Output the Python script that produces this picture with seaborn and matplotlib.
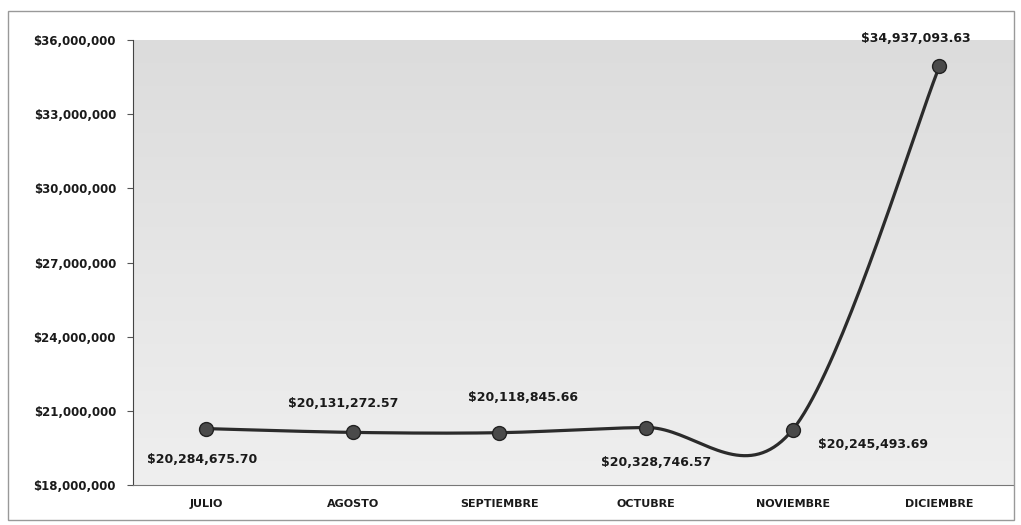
import matplotlib
matplotlib.use("Agg")
import matplotlib.pyplot as plt
from matplotlib.colors import LinearSegmentedColormap
from matplotlib.patches import Rectangle
import numpy as np
import pandas as pd
import seaborn as sns

months = ["JULIO", "AGOSTO", "SEPTIEMBRE", "OCTUBRE", "NOVIEMBRE", "DICIEMBRE"]
values = [20284675.70, 20131272.57, 20118845.66, 20328746.57, 20245493.69, 34937093.63]
labels = ["$20,284,675.70", "$20,131,272.57", "$20,118,845.66",
          "$20,328,746.57", "$20,245,493.69", "$34,937,093.63"]
y_ticks = [18e6, 21e6, 24e6, 27e6, 30e6, 33e6, 36e6]


def smooth(x, y, n=40):
    # Excel-style smoothed line (Catmull-Rom between the data points)
    x = np.asarray(x, float)
    y = np.asarray(y, float)
    px = np.concatenate([[x[0]], x, [x[-1]]])
    py = np.concatenate([[y[0]], y, [y[-1]]])
    xs, ys = [], []
    t = np.linspace(0, 1, n)
    for i in range(1, len(px) - 2):
        for arr, out in ((px, xs), (py, ys)):
            p0, p1, p2, p3 = arr[i - 1], arr[i], arr[i + 1], arr[i + 2]
            out.extend(0.5 * (2 * p1 + (-p0 + p2) * t
                              + (2 * p0 - 5 * p1 + 4 * p2 - p3) * t ** 2
                              + (-p0 + 3 * p1 - 3 * p2 + p3) * t ** 3))
    return np.array(xs), np.array(ys)


sns.set_style("white")
plt.rcParams['font.family'] = ['DejaVu Sans']

fig = plt.figure(figsize=(10.21, 5.25), dpi=100)
ax = fig.add_axes([0.130, 0.076, 0.862, 0.848])

# gradient plot area, darker at the top
grad = np.linspace(0, 1, 256).reshape(-1, 1)
cmap = LinearSegmentedColormap.from_list("g", ["#dcdcdc", "#efefef"])
ax.imshow(grad, cmap=cmap, aspect="auto", origin="upper",
          extent=[-0.5, 5.5, 18e6, 36e6], zorder=0)

xpos = np.arange(len(months))
sx, sy = smooth(xpos, values)
df_line = pd.DataFrame({"x": sx, "y": sy})
df_pts = pd.DataFrame({"x": xpos, "y": values})
sns.lineplot(data=df_line, x="x", y="y", color="#2b2b2b", linewidth=2.3,
             sort=False, ax=ax, zorder=3)
sns.scatterplot(data=df_pts, x="x", y="y", s=100, color="#4a4a4a",
                edgecolor="#222222", linewidth=1.0, ax=ax, zorder=4)

offsets = [(-3, -22), (-7, 21), (17, 25), (7, -25), (58, -11), (-17, 20)]
for xi, v, lab, off in zip(xpos, values, labels, offsets):
    ax.annotate(lab, (xi, v), xytext=off, textcoords="offset points",
                ha="center", va="center", fontsize=9, fontweight="bold",
                color="#1a1a1a", zorder=5, annotation_clip=False)

ax.set_xlim(-0.5, 5.5)
ax.set_ylim(18e6, 36e6)
ax.set_yticks(y_ticks)
ax.set_yticklabels(["${:,.0f}".format(t) for t in y_ticks],
                   fontsize=8.5, fontweight="bold", color="#1a1a1a")
ax.set_xticks(xpos)
ax.set_xticklabels(months, fontsize=8, fontweight="bold", color="#1a1a1a")
ax.set_xticks(np.arange(-0.5, 6, 1), minor=True)
ax.tick_params(axis="x", which="major", length=0, pad=10)
ax.tick_params(axis="x", which="minor", length=4, color="#555555", direction="out")
ax.tick_params(axis="y", length=4, color="#555555", direction="out", pad=8, left=True)
ax.set_xlabel("")
ax.set_ylabel("")
for s in ["top", "right"]:
    ax.spines[s].set_visible(False)
ax.spines["left"].set_color("#444444")
ax.spines["bottom"].set_color("#777777")

fig.patches.append(Rectangle((0.008, 0.01), 0.985, 0.97, transform=fig.transFigure,
                             fill=False, edgecolor="#999999", linewidth=1))

fig.savefig("out.png", dpi=100)
